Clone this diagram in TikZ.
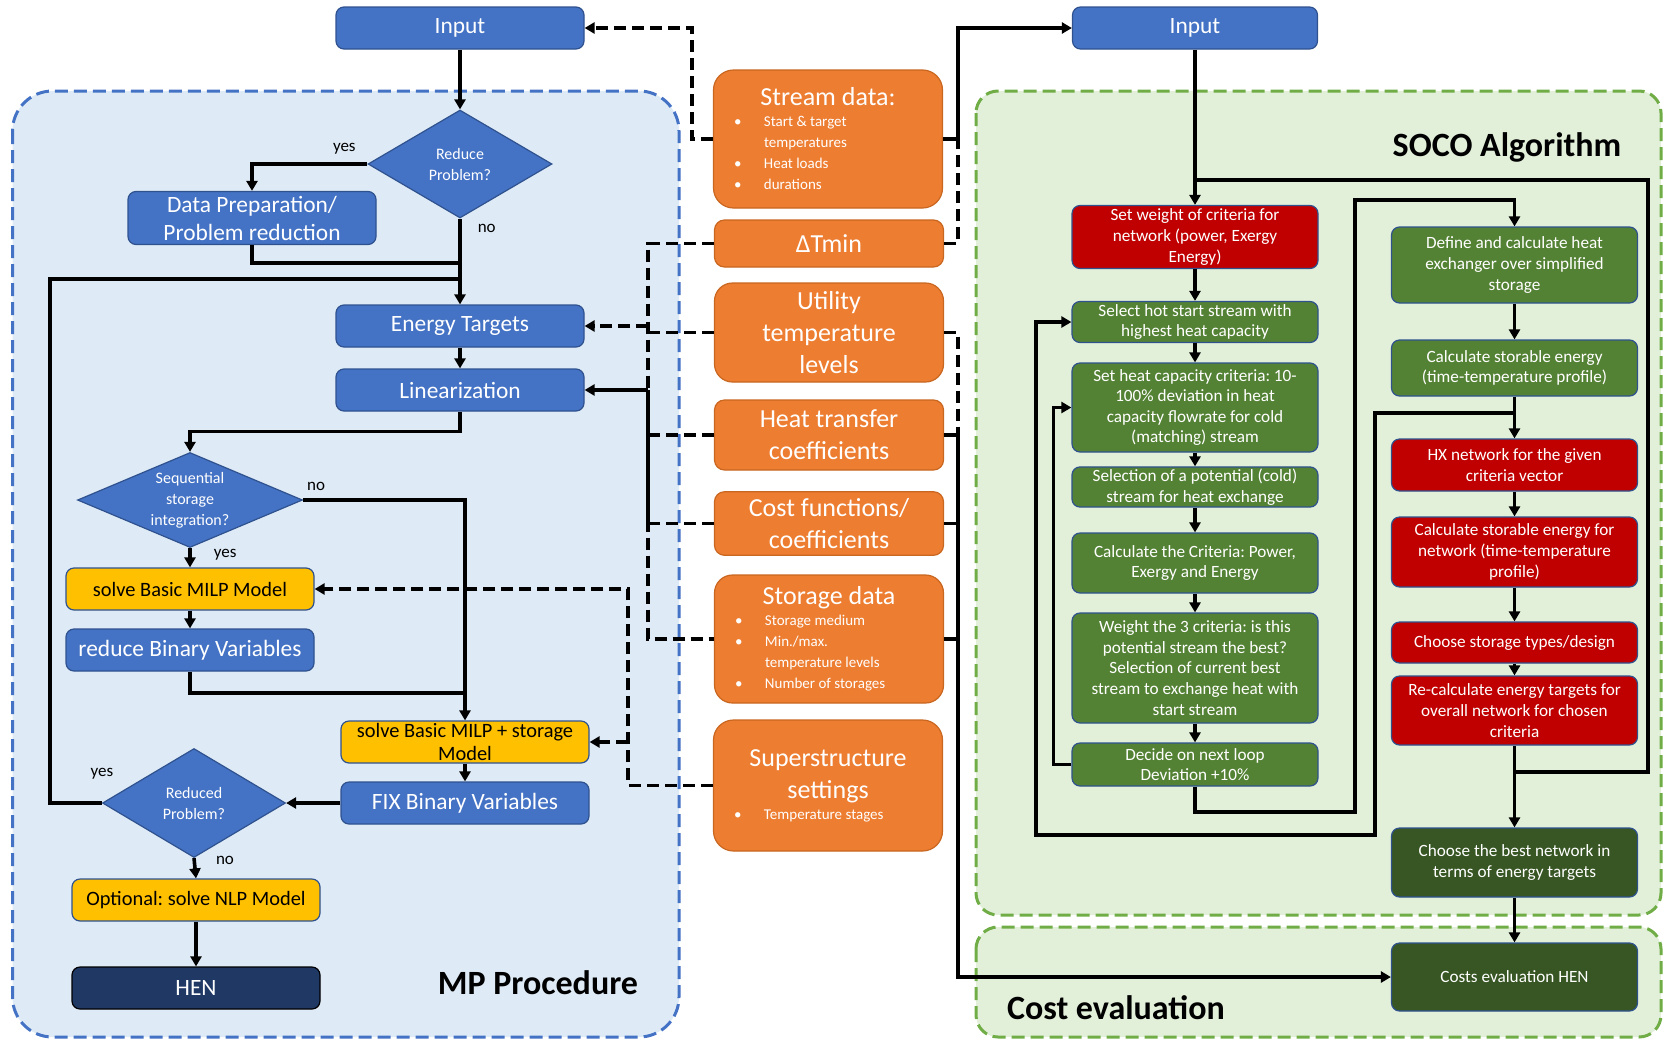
\documentclass[tikz,border=0pt]{standalone}
\usepackage{fontspec}
\setmainfont{Carlito}
\usetikzlibrary{arrows.meta, shapes.geometric, calc}
\setlength{\parindent}{0pt}
\frenchspacing

\definecolor{mpblue}{HTML}{4472C4}
\definecolor{edgeblue}{HTML}{2F528F}
\definecolor{mpfill}{HTML}{DEEBF7}
\definecolor{mpyellow}{HTML}{FFC000}
\definecolor{hennavy}{HTML}{203864}
\definecolor{dataorange}{HTML}{ED7D31}
\definecolor{orangeedge}{HTML}{C9661F}
\definecolor{socogreen}{HTML}{548235}
\definecolor{socored}{HTML}{C00000}
\definecolor{socodark}{HTML}{375623}
\definecolor{socofill}{HTML}{E2F0D9}
\definecolor{socoedge}{HTML}{70AD47}

\newcommand{\bul}{\hspace*{6pt}\makebox[15pt][l]{\textbullet}}
\newcommand{\bulgap}{\hspace*{21pt}}
\newcommand{\smalltxt}{\fontsize{7.5}{10.5}\selectfont\spaceskip=0pt\xspaceskip=0pt\relax}

\tikzset{
  box/.style={rectangle, rounded corners=4pt, draw=edgeblue, line width=0.6pt,
    fill=mpblue, text=white, align=center, inner sep=1pt},
  mpbox/.style={box, minimum width=124pt, minimum height=21pt,
    font=\fontsize{11.7}{14}\selectfont},
  ybox/.style={mpbox, fill=mpyellow, text=black, font=\fontsize{10.2}{11.5}\selectfont},
  decision/.style={diamond, draw=edgeblue, line width=0.6pt, fill=mpblue,
    text=white, align=center, inner sep=0pt, font=\fontsize{8}{10.5}\selectfont},
  obox/.style={rectangle, rounded corners=5pt, draw=orangeedge, line width=0.6pt,
    fill=dataorange, text=white, minimum width=114.5pt, align=center,
    font=\fontsize{13}{16}\selectfont},
  sbox/.style={box, fill=socogreen, minimum width=123pt,
    font=\fontsize{8.6}{10.3}\selectfont},
  mpregion/.style={draw=mpblue, fill=mpfill, line width=1.5pt,
    dash pattern=on 6.5pt off 3pt, rounded corners=20pt},
  socoregion/.style={draw=socoedge, fill=socofill, line width=1.5pt,
    dash pattern=on 6.5pt off 3pt, rounded corners=11pt},
  title/.style={font=\fontsize{17}{20}\selectfont\bfseries, text=black},
  flow/.style={line width=1.8pt, draw=black},
  dflow/.style={flow, dash pattern=on 6pt off 3pt},
  lbl/.style={font=\fontsize{8.5}{10}\selectfont, text=black, inner sep=1pt},
}

\begin{document}
\begin{tikzpicture}[x=0.5pt, y=-0.5pt, >={Triangle[length=5pt,width=5.5pt]}]
\useasboundingbox (0,0) rectangle (1665,1039);

% regions
\draw[mpregion] (12.5,91) rectangle (679,1037);
\draw[socoregion] (976,91) rectangle (1661,915);
\draw[socoregion] (976,927) rectangle (1661,1037);
\node[title] (mptitle) at (538,983) {MP Procedure};
\node[title] (socotitle) at (1507,147) {SOCO Algorithm};
\node[title, anchor=west] (costtitle) at (1000,1008) {Cost evaluation};

% MP procedure
\node[mpbox] (inL) at (460,28) {Input};
\node[decision, aspect=1.7, minimum width=92pt, minimum height=54pt] (reduceq) at (460,164) {Reduce\\Problem?};
\node[mpbox, minimum height=26.5pt] (prep) at (252,218) {Data Preparation/\\Problem reduction};
\node[mpbox] (targets) at (460,326) {Energy Targets};
\node[mpbox] (linear) at (460,390) {Linearization};
\node[decision, aspect=2.37, minimum width=112.5pt, minimum height=47.5pt] (seqq) at (190,500) {Sequential\\storage\\integration?};
\node[ybox] (milp) at (190,589) {solve Basic MILP Model};
\node[mpbox] (redbin) at (190,650) {reduce Binary Variables};
\node[ybox, inner sep=0.5pt] (milps) at (465,742) {solve Basic MILP + storage\\Model};
\node[mpbox] (fixbin) at (465,803) {FIX Binary Variables};
\node[decision, aspect=1.68, minimum width=91.5pt, minimum height=54.5pt] (redq) at (194,803) {Reduced\\Problem?};
\node[ybox] (nlp) at (196,900) {Optional: solve NLP Model};
\node[mpbox, fill=hennavy, draw=black] (hen) at (196,988) {HEN};

% input data
\node[obox, rounded corners=10pt, minimum height=69pt, text width=106pt, align=flush left] (stream) at (828,139)
  {{\centering Stream data:\par}\smalltxt\bul Start \& target\par\bulgap temperatures\par\bul Heat loads\par\bul durations\par};
\node[obox, minimum height=23.5pt] (dtmin) at (829,243.5) {ΔTmin};
\node[obox, rounded corners=9pt, minimum height=49.5pt] (util) at (829,332.5) {Utility\\temperature\\levels};
\node[obox, minimum height=35pt] (htc) at (829,435) {Heat transfer\\coefficients};
\node[obox, minimum height=31.5pt] (cost) at (829,523.5) {Cost functions/\\coefficients};
\node[obox, rounded corners=9pt, minimum height=64pt, text width=106pt, align=flush left] (stor) at (829,639)
  {{\centering Storage data\par}\smalltxt\bul Storage medium\par\bul Min./max.\par\bulgap temperature levels\par\bul Number of storages\par};
\node[obox, rounded corners=10pt, minimum height=65.5pt, text width=106pt, align=flush left] (super) at (828,785.5)
  {{\centering Superstructure\\settings\par}\smalltxt\bul Temperature stages\par};

% SOCO algorithm
\node[mpbox, minimum width=122.5pt] (inR) at (1195,28) {Input};
\node[sbox, fill=socored, minimum height=31.5pt] (weight) at (1195,237) {Set weight of criteria for\\network (power, Exergy\\Energy)};
\node[sbox, minimum height=20.5pt] (hot) at (1195,322) {Select hot start stream with\\highest heat capacity};
\node[sbox, minimum height=44.5pt] (capcrit) at (1195,407.5) {Set heat capacity criteria: 10-\\100\% deviation in heat\\capacity flowrate for cold\\(matching) stream};
\node[sbox, minimum height=20pt] (selpot) at (1195,487) {Selection of a potential (cold)\\stream for heat exchange};
\node[sbox, minimum height=30pt] (calccrit) at (1195,563) {Calculate the Criteria: Power,\\Exergy and Energy};
\node[sbox, minimum height=55pt] (weight3) at (1195,668) {Weight the 3 criteria: is this\\potential stream the best?\\Selection of current best\\stream to exchange heat with\\start stream};
\node[sbox, minimum height=21.5pt] (decide) at (1195,764.5) {Decide on next loop\\Deviation +10\%};

\node[sbox, minimum height=38pt] (define) at (1514.5,265) {Define and calculate heat\\exchanger over simplified\\storage};
\node[sbox, minimum height=28pt] (storE) at (1514.5,368) {Calculate storable energy\\(time-temperature profile)};
\node[sbox, fill=socored, minimum height=26pt] (hxnet) at (1514.5,465) {HX network for the given\\criteria vector};
\node[sbox, fill=socored, minimum height=35pt] (storN) at (1514.5,552) {Calculate storable energy for\\network (time-temperature\\profile)};
\node[sbox, fill=socored, minimum height=20.5pt] (choose) at (1514.5,642.5) {Choose storage types/design};
\node[sbox, fill=socored, minimum height=34.5pt] (recalc) at (1514.5,710.5) {Re-calculate energy targets for\\overall network for chosen\\criteria};
\node[sbox, fill=socodark, minimum height=34.5pt] (best) at (1514.5,862.5) {Choose the best network in\\terms of energy targets};
\node[sbox, fill=socodark, minimum height=34pt] (costs) at (1514.5,977) {Costs evaluation HEN};

% bus positions
\coordinate (busM) at (692,0);
\coordinate (busL) at (648,0);
\coordinate (busS) at (628,0);
\coordinate (busR) at (958,0);
\coordinate (loopL) at (50,0);
\coordinate (jprep) at (460,263);
\coordinate (jtop) at (460,279);
\coordinate (jmid) at (465,693);

% MP flow
\draw[flow,->] (inL) -- (reduceq);
\draw[flow,->] (reduceq.west) -| node[lbl, pos=0.1, above=3pt] {yes} (prep.north);
\draw[flow] (prep.south) |- (jprep);
\draw[flow,->] (reduceq.south) -- node[lbl, pos=0.12, right=7pt] {no} (targets.north);
\draw[flow] (redq.west) node[lbl, above=10pt] {yes} -- (redq.west -| loopL) |- (jtop);
\draw[flow,->] (targets) -- (linear);
\draw[flow,->] (linear.south) -- ++(0,20) -| (seqq.north);
\draw[flow,->] (seqq.east) -| node[lbl, pos=0.04, above=3pt] {no} (milps.north);
\draw[flow,->] (seqq.south) -- node[lbl, pos=0.35, right=10pt] {yes} (milp.north);
\draw[flow,->] (milp) -- (redbin);
\draw[flow] (redbin.south) |- (jmid);
\draw[flow,->] (milps) -- (fixbin);
\draw[flow,->] (fixbin.west) -- (redq.east);
\draw[flow,->] (redq.south) -- node[lbl, pos=0.1, right=9pt] {no} (nlp.north);
\draw[flow,->] (nlp) -- (hen);

% data to MP
\draw[dflow,->] (stream.west) -- (stream.west -| busM) |- (inL.east);
\draw[dflow] (dtmin.west) -- (dtmin.west -| busL) -- (stor.west -| busL) -- (stor.west);
\draw[dflow] (util.west) -- (util.west -| busL);
\draw[dflow] (htc.west) -- (htc.west -| busL);
\draw[dflow] (cost.west) -- (cost.west -| busL);
\draw[dflow,->] (targets.east -| busL) -- (targets.east);
\draw[flow] (cost.west -| busL) -- (linear.east -| busL);
\draw[flow,->] (linear.east -| busL) -- (linear.east);
\draw[dflow,->] (super.west) -- (super.west -| busS) |- (milp.east);
\draw[dflow,->] (milps.east -| busS) -- (milps.east);

% data to SOCO
\draw[flow,->] (stream.east) -- (stream.east -| busR) |- (inR.west);
\draw[dflow] (dtmin.east) -| (stream.east -| busR);
\draw[dflow] (util.east) -| (htc.east -| busR);
\draw[flow,->] (htc.east) -- (htc.east -| busR) |- (costs.west);
\draw[flow] (cost.east) -- (cost.east -| busR);
\draw[flow] (stor.east) -- (stor.east -| busR);

% SOCO flow
\coordinate (dloop) at (1355,812);
\coordinate (dtop) at (1355,200);
\coordinate (ojn) at (1514.5,413);
\coordinate (ocor) at (1375,835);
\coordinate (oleft) at (1036,835);
\coordinate (rj) at (1514.5,772);
\coordinate (rtop) at (1648,180);
\coordinate (wj) at (1195,180);
\draw[flow,->] (inR) -- (weight);
\draw[flow,->] (weight) -- (hot);
\draw[flow,->] (hot) -- (capcrit);
\draw[flow,->] (capcrit) -- (selpot);
\draw[flow,->] (selpot) -- (calccrit);
\draw[flow,->] (calccrit) -- (weight3);
\draw[flow,->] (weight3) -- (decide);
\draw[flow,->] (decide.west) -- ++(-18,0) |- (capcrit.west);
\draw[flow,->] (decide.south) |- (dloop) -- (dtop) -| (define.north);
\draw[flow,->] (define) -- (storE);
\draw[flow,->] (storE) -- (hxnet);
\draw[flow,->] (ojn) -| (ocor) -- (oleft) |- (hot.west);
\draw[flow,->] (hxnet) -- (storN);
\draw[flow,->] (storN) -- (choose);
\draw[flow,->] (choose) -- (recalc);
\draw[flow,->] (recalc) -- (best);
\draw[flow] (rj) -| (rtop) -- (wj);
\draw[flow,->] (best) -- (costs);

\end{tikzpicture}
\end{document}
